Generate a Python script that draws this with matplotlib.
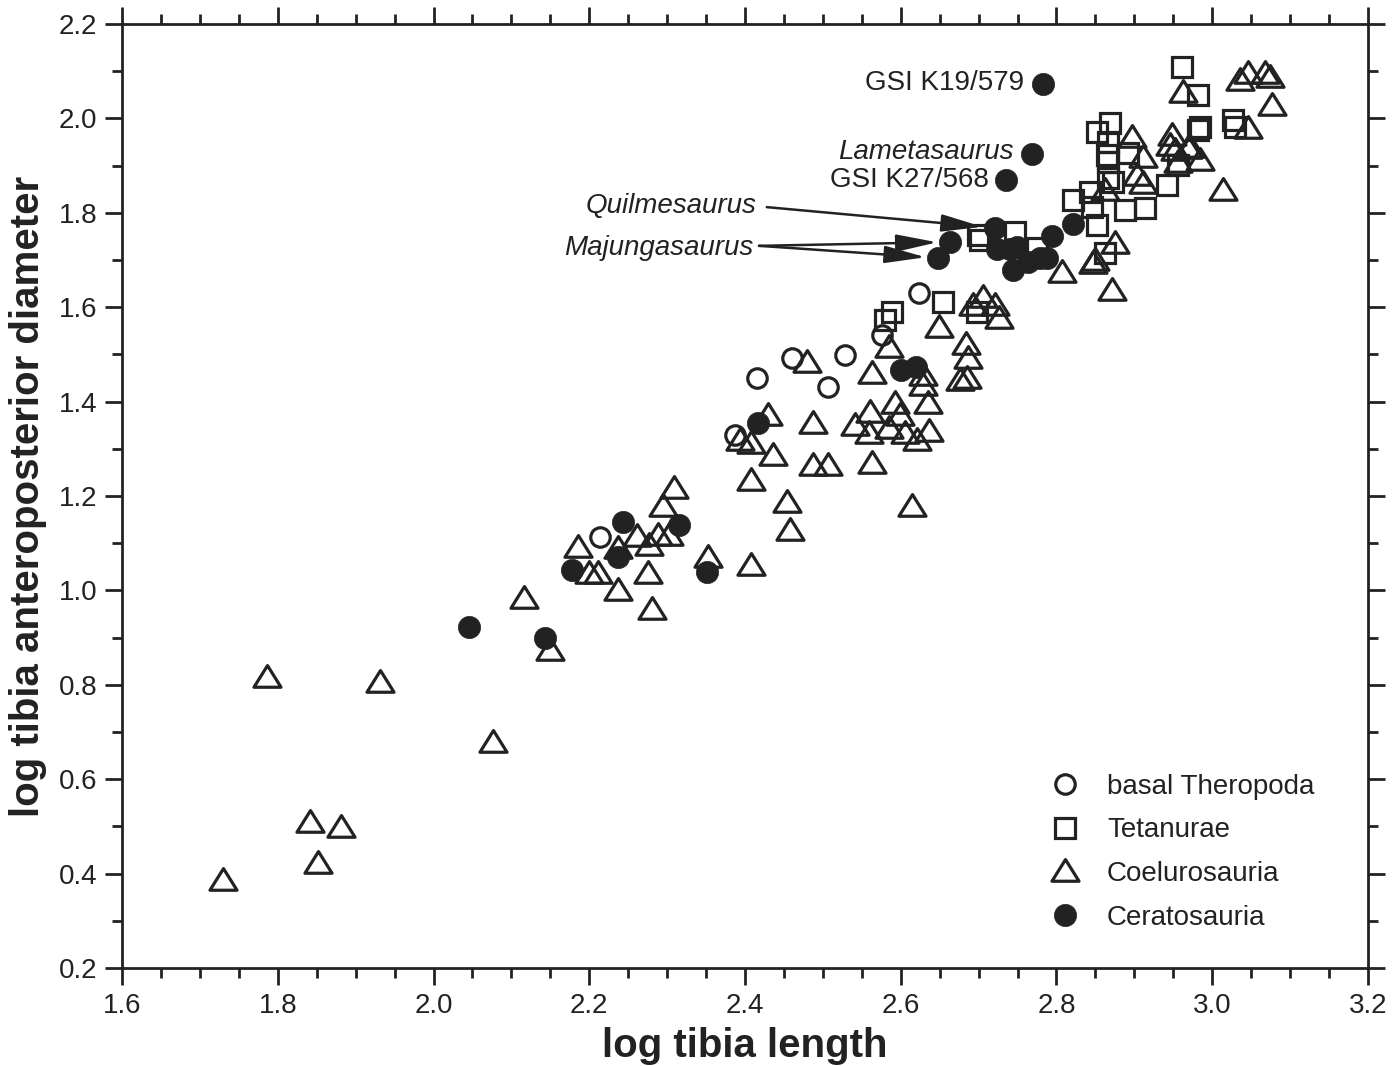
import matplotlib
matplotlib.use("Agg")
import matplotlib.pyplot as plt
from matplotlib.path import Path
from matplotlib.ticker import MultipleLocator, FormatStrFormatter

# ---------------- data ----------------
basal_x = [2.623, 2.460, 2.528, 2.415, 2.507, 2.576, 2.387, 2.214]
basal_y = [1.630, 1.492, 1.499, 1.450, 1.431, 1.541, 1.329, 1.113]

tet_x = [2.961, 2.982, 2.982, 2.984, 3.027, 3.029, 2.956, 2.942,
         2.869, 2.852, 2.866, 2.865, 2.866, 2.892, 2.866, 2.873,
         2.821, 2.843, 2.846, 2.888, 2.914, 2.852, 2.862,
         2.702, 2.699, 2.747, 2.775, 2.654, 2.589, 2.580, 2.698]
tet_y = [2.109, 2.050, 1.975, 1.982, 1.997, 1.982, 1.901, 1.859,
         1.990, 1.972, 1.950, 1.922, 1.908, 1.927, 1.874, 1.865,
         1.827, 1.844, 1.812, 1.806, 1.810, 1.774, 1.715,
         1.742, 1.753, 1.760, 1.725, 1.611, 1.590, 1.573, 1.590]

coel_x = [1.730, 1.786, 1.841, 1.851, 1.881, 1.931, 2.076, 2.116, 2.150,
          2.186, 2.200, 2.211, 2.237, 2.237, 2.261, 2.277, 2.288, 2.302,
          2.275, 2.280, 2.295, 2.309, 2.352, 2.408, 2.408, 2.454, 2.458,
          2.430, 2.408, 2.394, 2.436,
          2.480, 2.563, 2.585, 2.649, 2.706, 2.693, 2.721, 2.726, 2.684,
          2.686, 2.685, 2.676, 2.629, 2.635, 2.629, 2.593, 2.561, 2.599,
          2.541, 2.559, 2.585, 2.605, 2.621, 2.636, 2.487, 2.487, 2.506,
          2.563, 2.614,
          2.897, 2.948, 2.946, 2.952, 2.969, 2.911, 2.956, 2.984, 2.903,
          2.911, 3.014, 2.862, 2.875, 2.849, 2.847, 2.807, 2.871,
          2.962, 3.036, 3.046, 3.068, 3.074, 3.077, 3.046, 2.971]
coel_y = [0.386, 0.817, 0.509, 0.422, 0.499, 0.806, 0.679, 0.984, 0.874,
          1.092, 1.037, 1.037, 1.090, 1.001, 1.115, 1.096, 1.117, 1.117,
          1.037, 0.961, 1.179, 1.217, 1.071, 1.234, 1.054, 1.187, 1.128,
          1.372, 1.312, 1.319, 1.287,
          1.484, 1.461, 1.516, 1.558, 1.622, 1.605, 1.605, 1.577, 1.522,
          1.492, 1.450, 1.446, 1.435, 1.397, 1.456, 1.397, 1.378, 1.372,
          1.350, 1.333, 1.344, 1.333, 1.319, 1.338, 1.355, 1.266, 1.266,
          1.270, 1.178,
          1.961, 1.965, 1.944, 1.933, 1.937, 1.918, 1.908, 1.912, 1.880,
          1.863, 1.848, 1.848, 1.736, 1.700, 1.694, 1.675, 1.636,
          2.056, 2.081, 2.096, 2.096, 2.088, 2.028, 1.980, 1.939]

cera_x = [2.783, 2.769, 2.735, 2.721, 2.663, 2.648, 2.724, 2.740, 2.749,
          2.744, 2.763, 2.779, 2.788, 2.794, 2.821, 2.600, 2.620, 2.417,
          2.243, 2.237, 2.315, 2.178, 2.351, 2.046, 2.143]
cera_y = [2.073, 1.925, 1.869, 1.768, 1.738, 1.704, 1.723, 1.723, 1.727,
          1.679, 1.696, 1.704, 1.704, 1.751, 1.776, 1.467, 1.473, 1.355,
          1.145, 1.071, 1.139, 1.043, 1.040, 0.922, 0.899]

group_labels = ["basal Theropoda", "Tetanurae", "Coelurosauria", "Ceratosauria"]

# ---------------- figure ----------------
ink = "#222222"
font = ["Liberation Sans", "DejaVu Sans"]
plt.rcParams["font.family"] = font

fig = plt.figure(figsize=(13.95, 10.66), dpi=100)
ax = fig.add_axes([0.0875, 0.0919, 0.9806 - 0.0875, 0.9775 - 0.0919])

tri = Path([(-1.0, -0.72), (1.0, -0.72), (0.0, 0.88), (-1.0, -0.72)],
           [Path.MOVETO, Path.LINETO, Path.LINETO, Path.CLOSEPOLY])
mew = 2.3
ax.plot(basal_x, basal_y, ls="none", marker="o", ms=14, mfc="none",
        mec=ink, mew=mew, label=group_labels[0], zorder=3)
ax.plot(tet_x, tet_y, ls="none", marker="s", ms=14.5, mfc="none",
        mec=ink, mew=mew, label=group_labels[1], zorder=3)
ax.plot(coel_x, coel_y, ls="none", marker=tri, ms=19.5, mfc="none",
        mec=ink, mew=mew, label=group_labels[2], zorder=3)
ax.plot(cera_x, cera_y, ls="none", marker="o", ms=16, mfc=ink,
        mec=ink, mew=0.5, label=group_labels[3], zorder=4)

ax.set_xlim(1.6, 3.2)
ax.set_ylim(0.2, 2.2)
ax.xaxis.set_major_locator(MultipleLocator(0.2))
ax.xaxis.set_minor_locator(MultipleLocator(0.05))
ax.yaxis.set_major_locator(MultipleLocator(0.2))
ax.yaxis.set_minor_locator(MultipleLocator(0.1))
ax.xaxis.set_major_formatter(FormatStrFormatter("%.1f"))
ax.yaxis.set_major_formatter(FormatStrFormatter("%.1f"))
ax.tick_params(which="both", direction="out", top=True, right=True,
               color=ink, width=2, labelsize=20, labelcolor=ink)
ax.tick_params(which="major", length=12, pad=6)
ax.tick_params(which="minor", length=7)
for s in ax.spines.values():
    s.set_linewidth(2)
    s.set_color(ink)

ax.set_xlabel("log tibia length", fontsize=29, fontweight="bold", color=ink, labelpad=6)
ax.set_ylabel("log tibia anteroposterior diameter", fontsize=29, fontweight="bold",
              color=ink, labelpad=8)

# annotations
fs = 20
ax.text(2.758, 2.075, "GSI K19/579", ha="right", va="center", fontsize=fs, color=ink)
ax.text(2.745, 1.928, "Lametasaurus", ha="right", va="center", fontsize=fs,
        style="italic", color=ink)
ax.text(2.713, 1.870, "GSI K27/568", ha="right", va="center", fontsize=fs, color=ink)
ax.text(2.415, 1.815, "Quilmesaurus", ha="right", va="center", fontsize=fs,
        style="italic", color=ink)
ax.text(2.411, 1.725, "Majungasaurus", ha="right", va="center", fontsize=fs,
        style="italic", color=ink)

arrow_kw = dict(arrowstyle="-|>,head_length=1.8,head_width=0.38", color=ink,
                lw=1.8, shrinkA=0, shrinkB=9, mutation_scale=14)
ax.annotate("", xy=(cera_x[3], cera_y[3]), xytext=(2.428, 1.812),
            arrowprops=arrow_kw, zorder=5)
ax.annotate("", xy=(cera_x[4], cera_y[4]), xytext=(2.418, 1.730),
            arrowprops=arrow_kw, zorder=5)
ax.annotate("", xy=(cera_x[5], cera_y[5]), xytext=(2.418, 1.730),
            arrowprops=arrow_kw, zorder=5)

leg = ax.legend(loc="upper left", bbox_to_anchor=(0.746, 0.206), frameon=False,
                fontsize=20, handlelength=1.0, handletextpad=1.0,
                labelspacing=0.64, borderpad=0, borderaxespad=0)
for t in leg.get_texts():
    t.set_color(ink)

fig.savefig("out.png", dpi=100)
